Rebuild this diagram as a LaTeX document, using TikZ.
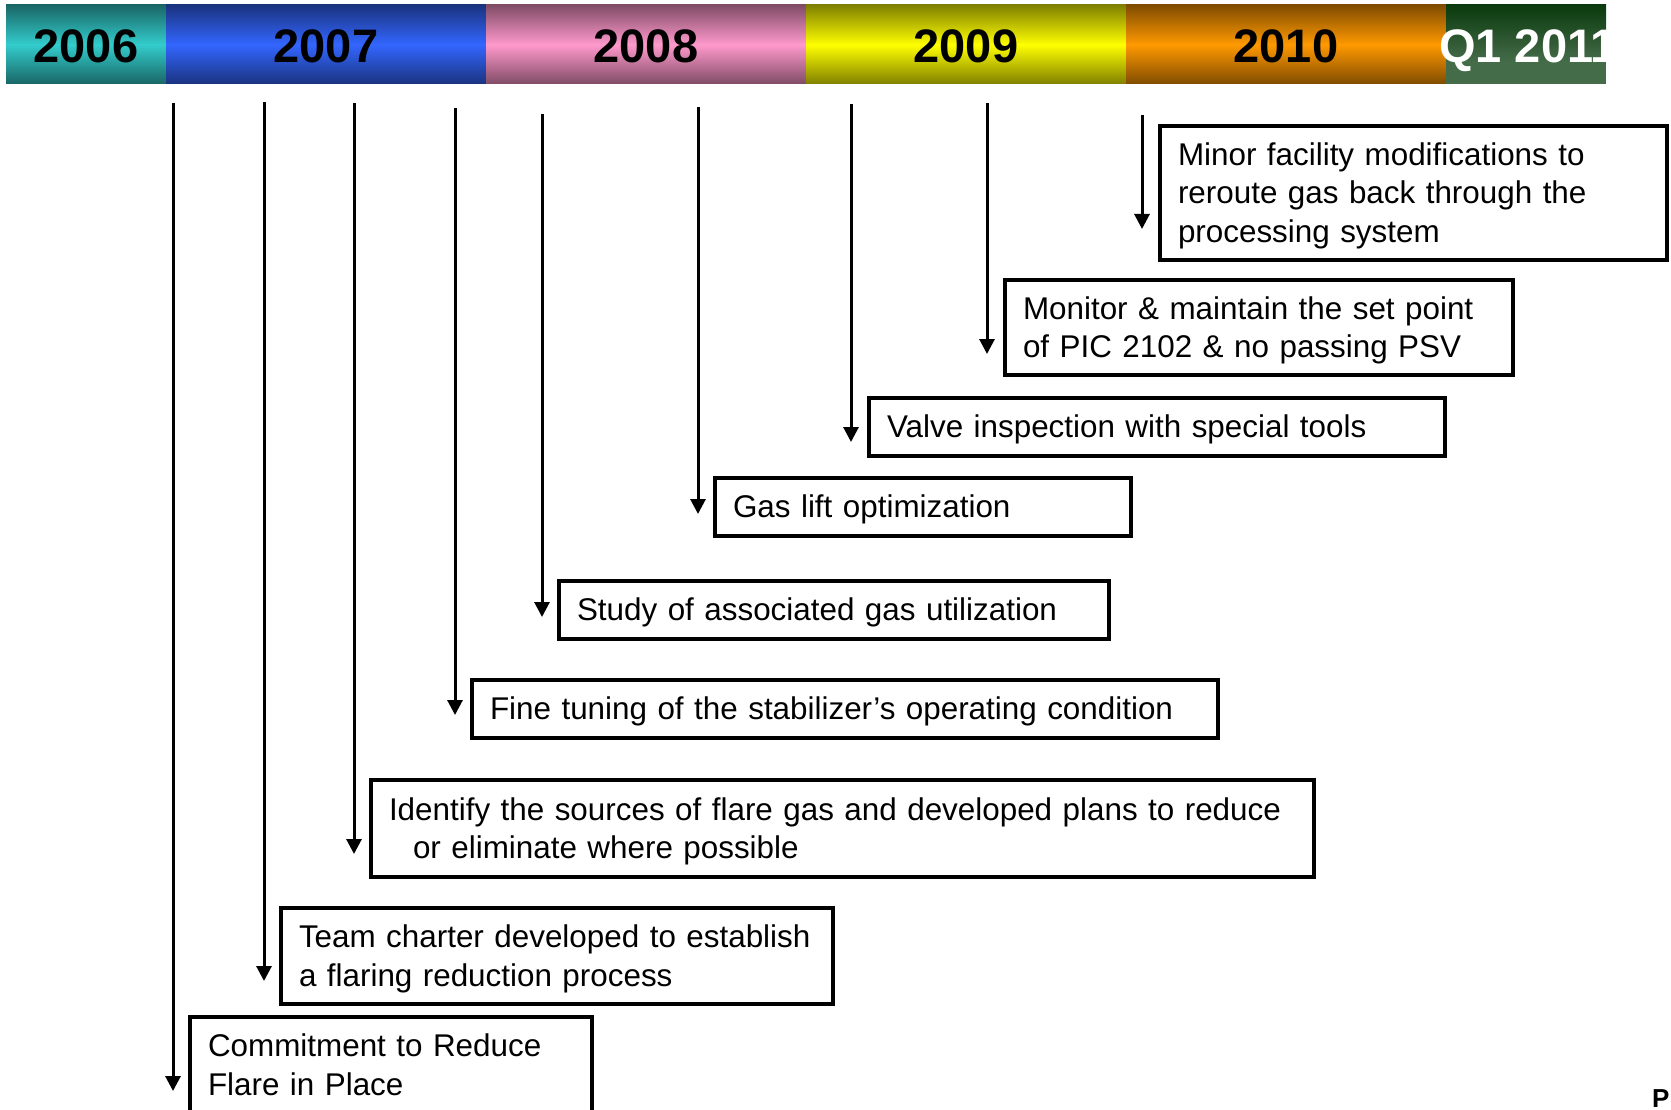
\documentclass[tikz,border=0pt]{standalone}
\usepackage{fontspec}
\setmainfont{Liberation Sans}
\usetikzlibrary{arrows.meta}
\definecolor{tealA}{HTML}{33CCCC}\definecolor{tealB}{HTML}{1A6666}
\definecolor{blueA}{HTML}{3366FF}\definecolor{blueB}{HTML}{1A337F}
\definecolor{pinkA}{HTML}{FF99CC}\definecolor{pinkB}{HTML}{804C66}
\definecolor{yelA}{HTML}{FFFF00}\definecolor{yelB}{HTML}{808000}
\definecolor{orA}{HTML}{FF9900}\definecolor{orB}{HTML}{804C00}
\definecolor{grA}{HTML}{0B3A0E}\definecolor{grB}{HTML}{456C49}
\newcommand\mystrut{\rule[-0.212em]{0pt}{1.117em}}
\newcommand\yearseg[4]{%
  \shade[top color=#3, bottom color=#4] (#1,5) rectangle (#2,44.8);
  \shade[top color=#4, bottom color=#3] (#1,44.5) rectangle (#2,84);}
\begin{document}
\begin{tikzpicture}[x=1pt,y=-1pt,
  box/.style={draw=black, line width=4pt, rectangle, inner xsep=18pt, inner ysep=0pt,
    align=left, font=\fontsize{31.4}{38.3}\selectfont,
    execute at begin node=\mystrut, execute at end node=\mystrut},
  arr/.style={line width=3pt, -{Triangle[width=15pt,length=15pt]}},
  year/.style={font=\fontsize{47}{47}\selectfont\bfseries, inner sep=0pt, anchor=base}]
\useasboundingbox (0,0) rectangle (1671,1110);
% year bar
\yearseg{6}{166.5}{tealB}{tealA}
\yearseg{166}{486.5}{blueB}{blueA}
\yearseg{486}{806.5}{pinkB}{pinkA}
\yearseg{806}{1126.5}{yelB}{yelA}
\yearseg{1126}{1446.5}{orB}{orA}
\shade[top color=grA, bottom color=grB] (1446,5) rectangle (1606,62);
\fill[grB] (1446,61.5) rectangle (1606,84);
\node[year] (y2006) at (86,63) {2006};
\node[year] (y2007) at (326,63) {2007};
\node[year] (y2008) at (646,63) {2008};
\node[year] (y2009) at (966,63) {2009};
\node[year] (y2010) at (1286,63) {2010};
\begin{scope}
\clip (6,5) rectangle (1606,84);
\node[year, text=white] (y2011) at (1528,63) {Q1 2011};
\end{scope}
% boxes
\node[box, minimum width=507pt, minimum height=134pt, text width=471pt] (b1) at (1413.5,193) {Minor facility modifications to\\reroute gas back through the\\processing system};
\node[box, minimum width=508pt, minimum height=95pt, text width=472pt] (b2) at (1259,327.5) {Monitor \& maintain the set point\\of PIC 2102 \& no passing PSV};
\node[box, minimum width=576pt, minimum height=58pt, text width=540pt] (b3) at (1157,427) {Valve inspection with special tools};
\node[box, minimum width=416pt, minimum height=58pt, text width=380pt] (b4) at (923,507) {Gas lift optimization};
\node[box, minimum width=550pt, minimum height=58pt, text width=514pt] (b5) at (834,610) {Study of associated gas utilization};
\node[box, minimum width=746pt, minimum height=58pt, text width=710pt] (b6) at (845,709) {\mbox{Fine tuning of the stabilizer’s operating condition}};
\node[box, minimum width=943pt, minimum height=97pt, text width=907pt] (b7) at (842.5,828.5) {\mbox{Identify the sources of flare gas and developed plans to reduce}\\\hspace*{24pt}or eliminate where possible};
\node[box, minimum width=552pt, minimum height=96pt, text width=516pt] (b8) at (557,956) {\mbox{Team charter developed to establish}\\a flaring reduction process};
\node[box, minimum width=402pt, minimum height=96pt, text width=366pt] (b9) at (391,1065) {Commitment to Reduce\\Flare in Place};
% arrows
\coordinate (s1) at (1142,115); \coordinate (e1) at (1142,229);
\coordinate (s2) at (987,103);  \coordinate (e2) at (987,354);
\coordinate (s3) at (851,104);  \coordinate (e3) at (851,442);
\coordinate (s4) at (698,107);  \coordinate (e4) at (698,514);
\coordinate (s5) at (542,114);  \coordinate (e5) at (542,617);
\coordinate (s6) at (455,108);  \coordinate (e6) at (455,715);
\coordinate (s7) at (354,103);  \coordinate (e7) at (354,854);
\coordinate (s8) at (264,102);  \coordinate (e8) at (264,981);
\coordinate (s9) at (173,103);  \coordinate (e9) at (173,1091);
\foreach \i in {1,...,9}{\draw[arr] (s\i) -- (e\i);}
\node[anchor=base west, inner sep=0pt, font=\fontsize{26}{26}\selectfont\bfseries] (p) at (1652,1107) {P};
\end{tikzpicture}
\end{document}
